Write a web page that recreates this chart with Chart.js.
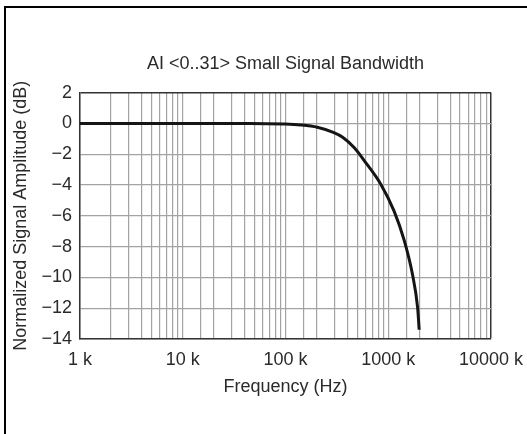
<!DOCTYPE html>
<html>
<head>
<meta charset="utf-8">
<script src="https://cdn.jsdelivr.net/npm/chart.js@4.4.1/dist/chart.umd.min.js"></script>
<style>
  html, body { margin: 0; padding: 0; background: #fff; overflow: hidden; }
  #bwChart { display: block; }
</style>
</head>
<body>
<canvas id="bwChart" width="527" height="434"></canvas>
<script>
// Frequency response
const freqHz = [1000, 10000, 45000, 96000, 140000, 204000, 296000, 360000, 470000,
  581000, 846000, 1140000, 1430000, 1720000, 1930000, 2000000];
const amplitudeDb = [0, 0, 0, -0.04, -0.1, -0.25, -0.6, -0.9, -1.6,
  -2.4, -3.95, -5.7, -7.6, -9.8, -11.95, -13.4];

// Decade tick labels on the frequency axis
const xTickValues = [1000, 10000, 100000, 1000000, 10000000];
const xTickLabels = ['1 k', '10 k', '100 k', '1000 k', '10000 k'];

const yMin = -14;
const yMax = 2;
const yStep = 2;

const fontFamily = '"Liberation Sans", Arial, Helvetica, sans-serif';
const fontSize = 18;
const textColor = '#2a2a2a';
const gridColor = '#a3a3a3';
const frameColor = '#333';

const points = freqHz.map((f, i) => ({ x: f, y: amplitudeDb[i] }));

// black frame along the top and left edge of the figure
const outerFrame = {
  id: 'outerFrame',
  afterDraw(chart) {
    const c = chart.ctx;
    c.save();
    c.fillStyle = '#000';
    c.fillRect(4, 6, chart.width - 4, 2);
    c.fillRect(4, 6, 2, chart.height - 6);
    c.restore();
  }
};

const ctx = document.getElementById('bwChart').getContext('2d');
const bwChart = new Chart(ctx, {
  type: 'line',
  data: {
    datasets: [{
      data: points,
      borderColor: '#151515',
      borderWidth: 3,
      pointRadius: 0,
      cubicInterpolationMode: 'monotone',
      fill: false
    }]
  },
  options: {
    responsive: false,
    animation: false,
    layout: { padding: { left: 6, right: 36, top: 53, bottom: 32 } },
    plugins: {
      legend: { display: false },
      tooltip: { enabled: false },
      title: {
        display: true,
        fullSize: false,
        text: 'AI <0..31> Small Signal Bandwidth',
        color: textColor,
        font: { family: fontFamily, size: fontSize, weight: 'normal' },
        padding: { top: 0, bottom: 18 }
      }
    },
    scales: {
      x: {
        type: 'logarithmic',
        min: 1000,
        max: 10000000,
        afterFit: function(scale) {
          scale.height = 63;
          scale.paddingLeft = 0;
          scale.paddingRight = 0;
        },
        grid: {
          color: c => (c.tick && c.tick.value === 10000000) ? frameColor : gridColor,
          lineWidth: c => (c.tick && c.tick.value === 10000000) ? 1.5 : 1.2,
          drawTicks: false
        },
        border: { color: frameColor, width: 1.5 },
        ticks: {
          autoSkip: false,
          maxRotation: 0,
          padding: 10,
          color: textColor,
          font: { family: fontFamily, size: fontSize },
          callback: function(value) {
            const i = xTickValues.indexOf(value);
            return i >= 0 ? xTickLabels[i] : '';
          }
        },
        title: {
          display: true,
          text: 'Frequency (Hz)',
          color: textColor,
          font: { family: fontFamily, size: fontSize },
          padding: { top: 3 }
        }
      },
      y: {
        min: yMin,
        max: yMax,
        afterFit: function(scale) { scale.width = 74; },
        grid: {
          color: c => (c.tick && c.tick.value === yMax) ? frameColor : gridColor,
          lineWidth: c => (c.tick && c.tick.value === yMax) ? 1.5 : 1.2,
          drawTicks: false
        },
        border: { color: frameColor, width: 1.5 },
        ticks: {
          stepSize: yStep,
          padding: 8,
          color: textColor,
          font: { family: fontFamily, size: fontSize },
          callback: function(value) {
            return value < 0 ? '\u2212' + Math.abs(value) : String(value);
          }
        },
        title: {
          display: true,
          text: 'Normalized Signal Amplitude (dB)',
          color: textColor,
          font: { family: fontFamily, size: fontSize },
          padding: { bottom: 0 }
        }
      }
    }
  },
  plugins: [outerFrame]
});
</script>
</body>
</html>
